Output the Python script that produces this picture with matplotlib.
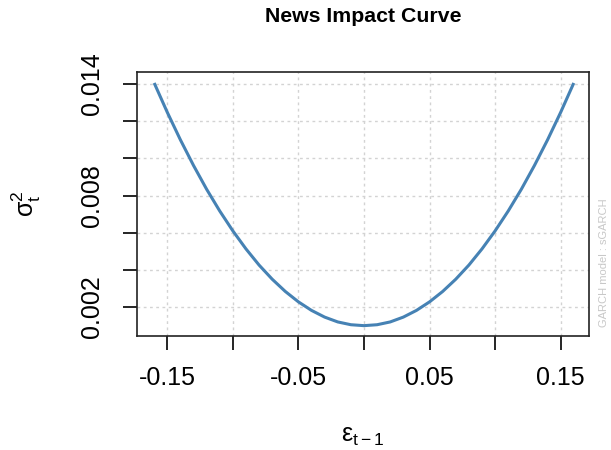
import matplotlib
matplotlib.use("Agg")
import matplotlib.pyplot as plt

plt.rcParams['font.family'] = ['Liberation Sans', 'DejaVu Sans']
plt.rcParams['mathtext.fontset'] = 'custom'
plt.rcParams['mathtext.rm'] = 'Liberation Sans'
plt.rcParams['mathtext.it'] = 'Liberation Sans:italic'

# data
eps = [-0.16, -0.15, -0.14, -0.13, -0.12, -0.11, -0.10, -0.09, -0.08, -0.07,
       -0.06, -0.05, -0.04, -0.03, -0.02, -0.01, 0.00, 0.01, 0.02, 0.03,
       0.04, 0.05, 0.06, 0.07, 0.08, 0.09, 0.10, 0.11, 0.12, 0.13,
       0.14, 0.15, 0.16]
sigma2 = [0.01406, 0.01248, 0.01100, 0.00962, 0.00834, 0.00717, 0.00610, 0.00513,
          0.00426, 0.00350, 0.00284, 0.00228, 0.00182, 0.00146, 0.00120, 0.00105,
          0.00100, 0.00105, 0.00120, 0.00146, 0.00182, 0.00228, 0.00284, 0.00350,
          0.00426, 0.00513, 0.00610, 0.00717, 0.00834, 0.00962, 0.01100, 0.01248,
          0.01406]
x_ticks = [-0.15, -0.10, -0.05, 0.00, 0.05, 0.10, 0.15]
x_labels = ['-0.15', '', '-0.05', '', '0.05', '', '0.15']
y_ticks = [0.002, 0.004, 0.006, 0.008, 0.010, 0.012, 0.014]
y_labels = ['0.002', '', '', '0.008', '', '', '0.014']

fig = plt.figure(figsize=(6.11, 4.5), dpi=100)
ax = fig.add_axes([137/611, 1-335.5/450, (589-137)/611, (335.5-72)/450])

ax.plot(eps, sigma2, color='#4682B4', linewidth=2.2, solid_capstyle='butt', zorder=3)

ax.set_xlim(-0.1731, 0.1716)
ax.set_ylim(0.00047, 0.01465)
ax.set_xticks(x_ticks)
ax.set_xticklabels(x_labels)
ax.set_yticks(y_ticks)
ax.set_yticklabels(y_labels, rotation=90, va='center')

ax.grid(True, color='#d3d3d3', linestyle=(0, (2, 2.5)), linewidth=1.0, zorder=0)
ax.tick_params(axis='both', length=10, width=1.2, labelsize=18, colors='black')
ax.tick_params(axis='x', pad=12)
ax.tick_params(axis='y', pad=14)
for s in ax.spines.values():
    s.set_linewidth(1.2)
    s.set_color('#222222')

fig.text(363/611, 1-16/450, 'News Impact Curve', fontsize=15.3, fontweight='bold',
         ha='center', va='center')

fig.text(363/611, 1-436/450, r'$\mathregular{\varepsilon_{t-1}}$', fontsize=18,
         ha='center', va='center')
fig.text(26/611, 1-204/450, r'$\mathregular{\sigma_t^2}$', fontsize=18,
         ha='center', va='center', rotation=90)

fig.text(604/611, 1-263/450, 'GARCH model : sGARCH', fontsize=8, color='#c8c8c8',
         ha='center', va='center', rotation=90)

fig.savefig('out.png', dpi=100)
